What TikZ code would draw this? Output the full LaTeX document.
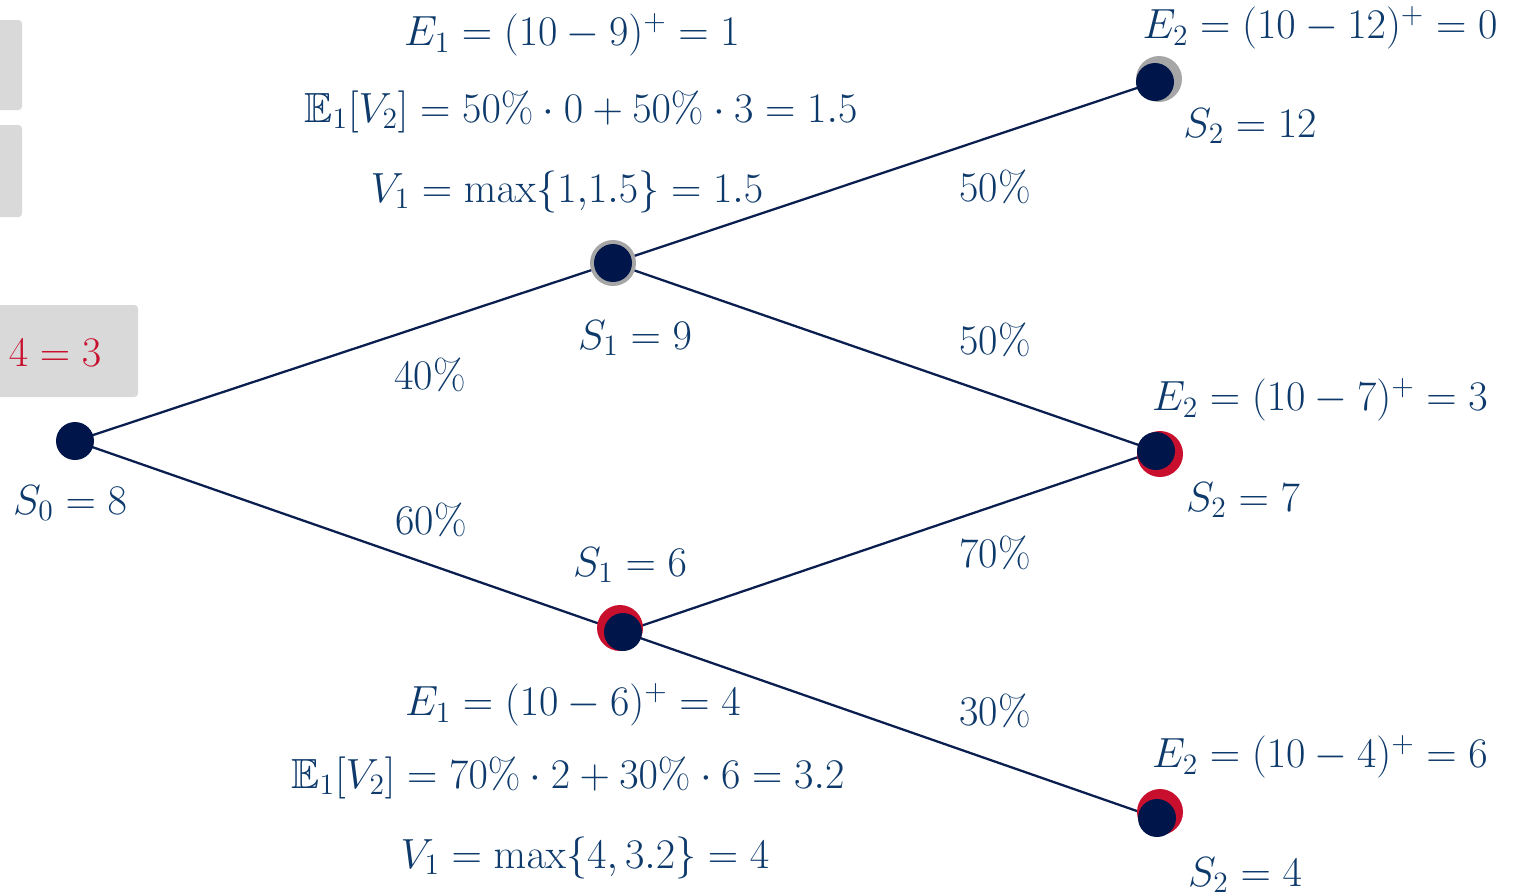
\RequirePackage{fix-cm}
\documentclass[tikz,border=0pt]{standalone}
\usepackage{amsmath,amssymb}
\usepackage{xcolor}
\usetikzlibrary{positioning,calc}

\definecolor{txtblue}{HTML}{0E3A6B}
\definecolor{linenavy}{HTML}{0A1E50}
\definecolor{dotnavy}{HTML}{00164A}
\definecolor{ringred}{HTML}{C8102E}
\definecolor{ringgray}{HTML}{A6A6A6}
\definecolor{tabgray}{HTML}{D9D9D9}

\begin{document}
\begin{tikzpicture}[
  x=0.02cm, y=-0.02cm,
  lbl/.style={text=txtblue, font=\fontsize{24}{28}\selectfont, inner sep=0pt},
  branch/.style={draw=linenavy, line width=1.3pt},
  dot/.style={circle, fill=dotnavy, inner sep=0pt, minimum size=0.76cm},
  ring/.style={circle, fill=#1, inner sep=0pt, minimum size=0.92cm},
  tab/.style={fill=tabgray, rounded corners=2pt}
]
  \useasboundingbox (0,0) rectangle (1515,894);
  % grey tabs at the left margin
  \fill[tab] (-10,20) rectangle (22,110);
  \fill[tab] (-10,125) rectangle (22,217);
  \fill[tab] (-10,305) rectangle (138,397);
  \node[lbl, text=ringred] (tabtxt) at (55,353) {$4 = 3$};
  % tree points
  \coordinate (s0) at (75,441);
  \coordinate (s1u) at (613,263);
  \coordinate (s1d) at (623,632);
  \coordinate (s2u) at (1155,82);
  \coordinate (s2m) at (1156,451);
  \coordinate (s2d) at (1157,818);
  \draw[branch] (s0) -- (s1u);
  \draw[branch] (s0) -- (s1d);
  \draw[branch] (s1u) -- (s2u);
  \draw[branch] (s1u) -- (s2m);
  \draw[branch] (s1d) -- (s2m);
  \draw[branch] (s1d) -- (s2d);
  % rings behind the dots
  \node[ring=ringgray] (r1u) at (613,263) {};
  \node[ring=ringred] (r1d) at (620,628) {};
  \node[ring=ringgray] (r2u) at (1159,79) {};
  \node[ring=ringred] (r2m) at (1160,454) {};
  \node[ring=ringred] (r2d) at (1160,812) {};
  \foreach \p in {s0,s1u,s1d,s2u,s2m,s2d}
    \node[dot] (d\p) at (\p) {};
  % probabilities
  \node[lbl] (p40) at (430,375) {40\%};
  \node[lbl] (p60) at (431,520) {60\%};
  \node[lbl] (p50a) at (995,187) {50\%};
  \node[lbl] (p50b) at (995,340) {50\%};
  \node[lbl] (p70) at (995,553) {70\%};
  \node[lbl] (p30) at (995,711) {30\%};
  % stock prices
  \node[lbl] (t0) at (70,503) {$S_0 = 8$};
  \node[lbl] (t1u) at (635,338) {$S_1 = 9$};
  \node[lbl] (t1d) at (630,565) {$S_1 = 6$};
  \node[lbl] (t2u) at (1250,126) {$S_2 = 12$};
  \node[lbl] (t2m) at (1243,500) {$S_2 = 7$};
  \node[lbl] (t2d) at (1245,875) {$S_2 = 4$};
  % exercise and continuation values
  \node[lbl] (e1u) at (572,35) {$E_1 = (10-9)^+ = 1$};
  \node[lbl] (c1u) at (581,112) {$\mathbb{E}_1[V_2] = 50\% \cdot 0 + 50\% \cdot 3 = 1.5$};
  \node[lbl] (v1u) at (567,192) {$V_1 = \max\{1{,}1.5\} = 1.5$};
  \node[lbl] (e1d) at (573,705) {$E_1 = (10-6)^+ = 4$};
  \node[lbl] (c1d) at (568,778) {$\mathbb{E}_1[V_2] = 70\% \cdot 2 + 30\% \cdot 6 = 3.2$};
  \node[lbl] (v1d) at (585,858) {$V_1 = \max\{4, 3.2\} = 4$};
  \node[lbl] (e2u) at (1320,28) {$E_2 = (10-12)^+ = 0$};
  \node[lbl] (e2m) at (1320,400) {$E_2 = (10-7)^+ = 3$};
  \node[lbl] (e2d) at (1320,757) {$E_2 = (10-4)^+ = 6$};
\end{tikzpicture}
\end{document}
